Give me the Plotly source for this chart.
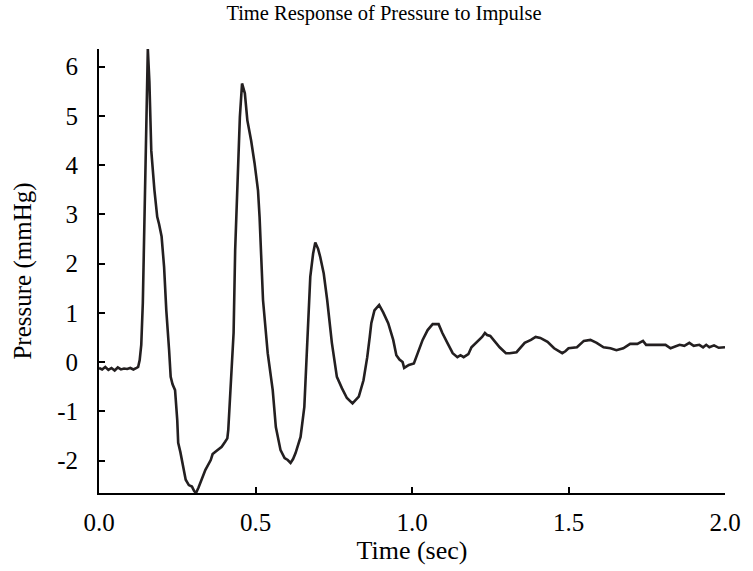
import plotly.graph_objects as go

# Time (sec) and pressure (mmHg)
time_s = [
    0.00, 0.01, 0.02, 0.03, 0.04, 0.05, 0.06, 0.07, 0.08, 0.09, 0.10, 0.11, 0.12,
    0.125, 0.13, 0.135, 0.14, 0.145, 0.15, 0.156, 0.161, 0.167, 0.177, 0.186, 0.192,
    0.20, 0.208, 0.215, 0.224, 0.229, 0.235, 0.243, 0.25, 0.253, 0.26, 0.269, 0.277,
    0.287, 0.297, 0.304, 0.31, 0.318, 0.325, 0.34, 0.357, 0.363, 0.376, 0.392, 0.403,
    0.41, 0.413, 0.418, 0.42, 0.425, 0.43, 0.435, 0.44, 0.445, 0.45, 0.457, 0.466,
    0.474, 0.486, 0.497, 0.508, 0.513, 0.518, 0.524, 0.539, 0.55, 0.555, 0.565, 0.58,
    0.593, 0.603, 0.612, 0.62, 0.628, 0.644, 0.656, 0.66, 0.666, 0.675, 0.684, 0.691,
    0.70, 0.707, 0.718, 0.729, 0.744, 0.76, 0.776, 0.792, 0.81, 0.83, 0.845, 0.857,
    0.865, 0.87, 0.88, 0.895, 0.908, 0.924, 0.94, 0.95, 0.96, 0.97, 0.975, 0.99,
    1.006, 1.02, 1.034, 1.05, 1.066, 1.085, 1.097, 1.113, 1.13, 1.145, 1.155, 1.165,
    1.18, 1.19, 1.208, 1.224, 1.233, 1.24, 1.25, 1.265, 1.28, 1.30, 1.312, 1.334,
    1.36, 1.38, 1.395, 1.41, 1.433, 1.454, 1.48, 1.49, 1.50, 1.527, 1.549, 1.57,
    1.59, 1.612, 1.634, 1.653, 1.675, 1.697, 1.72, 1.738, 1.748, 1.78, 1.81, 1.826,
    1.855, 1.87, 1.886, 1.90, 1.918, 1.93, 1.94, 1.95, 1.965, 1.98, 2.00,
]
pressure_mmhg = [
    -0.12, -0.15, -0.10, -0.16, -0.12, -0.17, -0.11, -0.15, -0.13, -0.14, -0.12, -0.15, -0.12,
    -0.10, 0.04, 0.35, 1.20, 3.00, 4.80, 6.36, 5.70, 4.30, 3.50, 2.95, 2.80,
    2.55, 1.93, 1.05, 0.24, -0.30, -0.45, -0.57, -1.18, -1.64, -1.83, -2.13, -2.39,
    -2.50, -2.53, -2.62, -2.66, -2.55, -2.43, -2.19, -1.99, -1.87, -1.80, -1.72, -1.62,
    -1.55, -1.38, -0.77, -0.60, 0.00, 0.59, 2.27, 3.08, 4.04, 4.97, 5.66, 5.46,
    4.91, 4.50, 4.04, 3.49, 2.95, 2.20, 1.26, 0.18, -0.37, -0.57, -1.32, -1.79,
    -1.95, -1.99, -2.05, -1.97, -1.85, -1.52, -0.91, -0.37, 0.59, 1.73, 2.20, 2.43,
    2.30, 2.13, 1.80, 1.26, 0.39, -0.30, -0.53, -0.73, -0.84, -0.70, -0.37, 0.10,
    0.51, 0.79, 1.05, 1.16, 1.01, 0.79, 0.45, 0.14, 0.05, 0.00, -0.12, -0.06,
    -0.03, 0.20, 0.45, 0.65, 0.77, 0.77, 0.59, 0.39, 0.18, 0.10, 0.14, 0.10,
    0.16, 0.30, 0.41, 0.51, 0.59, 0.55, 0.53, 0.41, 0.30, 0.18, 0.18, 0.20,
    0.39, 0.45, 0.51, 0.49, 0.41, 0.28, 0.18, 0.22, 0.28, 0.30, 0.43, 0.45,
    0.39, 0.30, 0.28, 0.24, 0.28, 0.37, 0.37, 0.43, 0.35, 0.35, 0.35, 0.28,
    0.35, 0.33, 0.39, 0.33, 0.35, 0.30, 0.35, 0.30, 0.34, 0.29, 0.30,
]

x_tick_vals = [0.0, 0.5, 1.0, 1.5, 2.0]
x_tick_text = ["0.0", "0.5", "1.0", "1.5", "2.0"]
y_tick_vals = [-2, -1, 0, 1, 2, 3, 4, 5, 6]
y_tick_text = ["-2", "-1", "0", "1", "2", "3", "4", "5", "6"]

FONT = "Liberation Serif, Times New Roman, serif"

fig = go.Figure()
fig.add_trace(go.Scatter(
    x=time_s, y=pressure_mmhg, mode="lines",
    line=dict(color="#231f20", width=2.6),
    showlegend=False,
))

fig.update_layout(
    width=753, height=571,
    paper_bgcolor="white", plot_bgcolor="white",
    margin=dict(l=99, r=20, t=49, b=78),
    font=dict(family=FONT, color="black", size=25),
    title=dict(text="Time Response of Pressure to Impulse",
               x=0.51, xref="container", xanchor="center",
               y=0.977, yref="container", yanchor="middle",
               font=dict(family=FONT, size=20.5, color="black")),
    xaxis=dict(
        range=[0, 2], tickvals=x_tick_vals, ticktext=x_tick_text,
        showline=True, linecolor="black", linewidth=2,
        ticks="inside", ticklen=6, tickwidth=2, tickcolor="black",
        showgrid=False, zeroline=False, ticklabelstandoff=6,
        title=dict(text="Time (sec)", standoff=5, font=dict(size=26)),
        tickfont=dict(size=25),
    ),
    yaxis=dict(
        range=[min(pressure_mmhg), max(pressure_mmhg)],
        tickvals=y_tick_vals, ticktext=y_tick_text,
        showline=True, linecolor="black", linewidth=2,
        ticks="inside", ticklen=6, tickwidth=2, tickcolor="black",
        showgrid=False, zeroline=False, ticklabelstandoff=14,
        title=dict(text="Pressure (mmHg)", standoff=18, font=dict(size=25)),
        tickfont=dict(size=25),
    ),
)

# remove the browser's default 8px body margin so the figure fills the window
fig.write_html("out.html",
               config={"displayModeBar": False},
               post_script="document.body.style.margin='0';document.body.style.overflow='hidden';")
